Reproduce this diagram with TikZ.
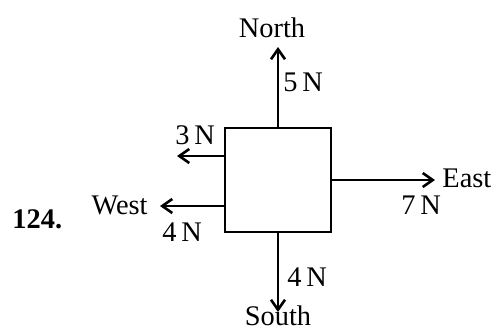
\documentclass[tikz,border=0pt]{standalone}
\usepackage{fontspec}
\setmainfont{Liberation Serif}
\usetikzlibrary{arrows.meta}
\begin{document}
\begin{tikzpicture}[x=0.5pt,y=-0.5pt,
    force/.style={-{Straight Barb[length=5pt,width=7pt]},line width=1.3pt},
    lbl/.style={inner sep=0pt,font=\fontsize{14.2}{17}\selectfont}]
  \useasboundingbox (0,0) rectangle (496,329);
  \node[draw,line width=1.3pt,minimum width=53pt,minimum height=52pt,inner sep=0pt] (box) at (278,180) {};
  % arrow ends
  \coordinate (n) at (278,47);
  \coordinate (s) at (278,312);
  \coordinate (e) at (435,180);
  \coordinate (w3) at (177,156);
  \coordinate (w4) at (160,206);
  \draw[force] (box.north) -- (n);
  \draw[force] (box.south) -- (s);
  \draw[force] (box.east) -- (e);
  \draw[force] (w3 -| box.west) -- (w3);
  \draw[force] (w4 -| box.west) -- (w4);
  % labels
  \node[lbl] (north) at (272,28) {North};
  \node[lbl] (south) at (278,316) {South};
  \node[lbl,anchor=west] (east) at (442,178) {East};
  \node[lbl,anchor=east] (west) at (148,205) {West};
  \node[lbl,anchor=west] (f5) at (283,82) {5\,N};
  \node[lbl,anchor=west] (f3) at (175,135) {3\,N};
  \node[lbl,anchor=west] (f4w) at (162,232) {4\,N};
  \node[lbl,anchor=west] (f7) at (401,205) {7\,N};
  \node[lbl,anchor=west] (f4s) at (287,277) {4\,N};
  \node[lbl,anchor=west,font=\fontsize{14.2}{17}\selectfont\bfseries] (num) at (12,219) {124.};
\end{tikzpicture}
\end{document}
